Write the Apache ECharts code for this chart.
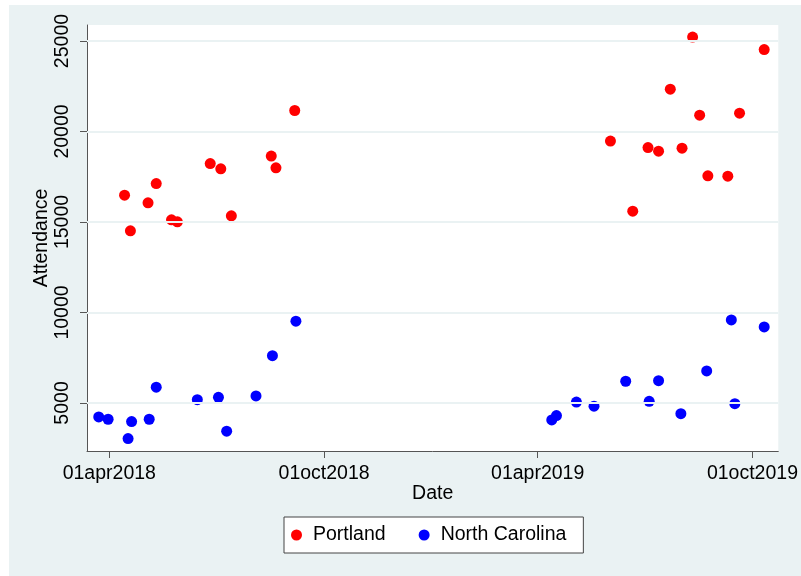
<!DOCTYPE html>
<html>
<head>
<meta charset="utf-8">
<script src="https://cdn.jsdelivr.net/npm/echarts@6/dist/echarts.min.js"></script>
<style>
  body { margin: 0; background: #fff; }
  #bg { position: absolute; left: 9px; top: 5px; width: 792px; height: 571px; background: #eaf2f3; }
  #chart { position: absolute; left: 0; top: 0; width: 801px; height: 576px; }
</style>
</head>
<body>
<div id="bg"></div>
<div id="chart"></div>
<script>
var portlandDates = [
  '2018-04-14', '2018-04-19', '2018-05-04', '2018-05-11', '2018-05-24', '2018-05-29',
  '2018-06-26', '2018-07-05', '2018-07-14', '2018-08-17', '2018-08-21', '2018-09-06',
  '2019-06-02', '2019-06-21', '2019-07-04', '2019-07-13', '2019-07-23', '2019-08-02',
  '2019-08-11', '2019-08-17', '2019-08-24', '2019-09-10', '2019-09-20', '2019-10-11',
]
var portlandAttendance = [
  16480, 14510, 16060, 17120, 15120, 15010,
  18230, 17940, 15340, 18640, 17990, 21160,
  19470, 15600, 19110, 18910, 22340, 19080,
  25220, 20900, 17550, 17530, 21010, 24530,
]
var ncDates = [
  '2018-03-23', '2018-03-31', '2018-04-17', '2018-04-20', '2018-05-05', '2018-05-11',
  '2018-06-15', '2018-07-03', '2018-07-10', '2018-08-04', '2018-08-18', '2018-09-07',
  '2019-04-13', '2019-04-17', '2019-05-04', '2019-05-19', '2019-06-15', '2019-07-05',
  '2019-07-13', '2019-08-01', '2019-08-23', '2019-09-13', '2019-09-16', '2019-10-11',
]
var ncAttendance = [
  4230, 4100, 3030, 3970, 4100, 5870,
  5180, 5310, 3440, 5390, 7610, 9520,
  4060, 4300, 5050, 4820, 6200, 5090,
  6230, 4410, 6770, 9590, 4960, 9200,
]
var xTicks = ['2018-04-01', '2018-10-01', '2019-04-01', '2019-10-01']
var yTicks = [5000, 10000, 15000, 20000, 25000]
var monthNames = ['jan', 'feb', 'mar', 'apr', 'may', 'jun', 'jul', 'aug', 'sep', 'oct', 'nov', 'dec']

function ts(s) {
  var p = s.split('-')
  return Date.UTC(+p[0], +p[1] - 1, +p[2])
}
function pairs(dates, vals) {
  return dates.map(function (d, i) { return [ts(d), vals[i]] })
}

var font = "'Liberation Sans', Arial, Helvetica, sans-serif"
var fs = 19.5
var chart = echarts.init(document.getElementById('chart'))
chart.setOption({
  animation: false,
  textStyle: { fontFamily: font },
  grid: {
    left: 87,
    right: 20,
    top: 25,
    bottom: 125,
    show: true,
    backgroundColor: '#fff',
    borderWidth: 0,
  },
  xAxis: {
    type: 'value',
    min: Date.UTC(2018, 2, 13),
    max: Date.UTC(2019, 9, 23),
    name: 'Date',
    nameLocation: 'middle',
    nameGap: 33,
    nameMoveOverlap: false,
    nameTextStyle: { color: '#000', fontSize: fs, fontFamily: font },
    axisLine: { show: true, onZero: false, lineStyle: { color: '#555', width: 1 } },
    axisTick: { show: true, length: 7, customValues: xTicks.map(ts), lineStyle: { color: '#555' } },
    axisLabel: {
      customValues: xTicks.map(ts),
      margin: 13,
      color: '#000',
      fontSize: fs,
      fontFamily: font,
      formatter: function (v) {
        var d = new Date(v)
        var dd = d.getUTCDate()
        return (dd < 10 ? '0' : '') + dd + monthNames[d.getUTCMonth()] + d.getUTCFullYear()
      },
    },
    splitLine: { show: false },
  },
  yAxis: {
    type: 'value',
    min: 2345,
    max: 25885,
    name: 'Attendance',
    nameLocation: 'middle',
    nameRotate: 90,
    nameGap: 35,
    nameMoveOverlap: false,
    nameTextStyle: { color: '#000', fontSize: fs, fontFamily: font },
    axisLine: { show: true, onZero: false, lineStyle: { color: '#555', width: 1 } },
    axisTick: { show: true, length: 7, customValues: yTicks, lineStyle: { color: '#555' } },
    axisLabel: {
      customValues: yTicks,
      rotate: 90,
      margin: 14,
      color: '#000',
      fontSize: fs,
      fontFamily: font,
      formatter: function (v) { return String(v) },
    },
    splitLine: { show: false },
  },
  legend: {
    left: 284,
    top: 517,
    orient: 'horizontal',
    backgroundColor: '#fff',
    borderColor: '#444',
    borderWidth: 1,
    borderRadius: 0,
    padding: [8, 17, 8, 7],
    itemGap: 33,
    itemWidth: 11,
    itemHeight: 11,
    textStyle: { color: '#000', fontSize: fs, fontFamily: font, padding: [0, 0, 0, 6] },
    data: [
      { name: 'Portland', icon: 'circle' },
      { name: 'North Carolina', icon: 'circle' },
    ],
  },
  series: [
    {
      name: 'gridlines',
      type: 'scatter',
      data: [],
      silent: true,
      markLine: {
        symbol: 'none',
        silent: true,
        label: { show: false },
        lineStyle: { color: '#eaf2f3', width: 2, type: 'solid' },
        data: yTicks.map(function (v) { return { yAxis: v } }),
      },
      z: 1,
    },
    {
      name: 'Portland',
      type: 'scatter',
      symbol: 'circle',
      symbolSize: 11,
      itemStyle: { color: '#ff0000', opacity: 1 },
      data: pairs(portlandDates, portlandAttendance),
      z: 3,
    },
    {
      name: 'North Carolina',
      type: 'scatter',
      symbol: 'circle',
      symbolSize: 11,
      itemStyle: { color: '#0000ff', opacity: 1 },
      data: pairs(ncDates, ncAttendance),
      z: 3,
    },
  ],
})
</script>
</body>
</html>
